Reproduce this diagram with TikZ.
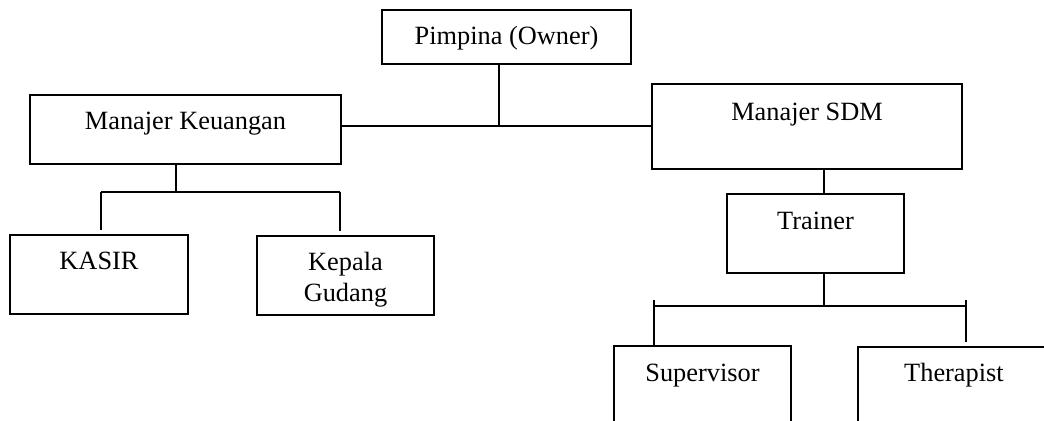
\documentclass[tikz,border=0pt]{standalone}
\usepackage{fontspec}
\setmainfont{Liberation Serif}
\usepackage{tikz}
\usetikzlibrary{positioning,calc}
\tikzset{
    orgbox/.style={rectangle, draw=black, line width=0.9pt, inner xsep=0pt, inner ysep=0pt, font=\fontsize{12}{14.5}\selectfont, align=center},
    orgline/.style={draw=black, line width=0.9pt}
}

\begin{document}
\begin{tikzpicture}[x=0.016cm, y=-0.016cm]
    \clip (0,0) rectangle (1044,421);

    \node[orgbox, minimum width=3.984cm, text height=0.56cm, text depth=0.304cm] (owner) at (506.5,37) {Pimpina (Owner)};
    \node[orgbox, minimum width=4.976cm, text height=0.56cm, text depth=0.544cm] (keuangan) at (185.5,129.5) {Manajer Keuangan};
    \node[orgbox, minimum width=4.96cm, text height=0.592cm, text depth=0.768cm] (sdm) at (807,126.5) {Manajer SDM};
    \node[orgbox, minimum width=2.848cm, text height=0.56cm, text depth=0.704cm] (kasir) at (99,274.5) {KASIR};
    \node[orgbox, minimum width=2.832cm, text height=1.056cm, text depth=0.208cm] (gudang) at (345.5,275.5) {Kepala\\Gudang};
    \node[orgbox, minimum width=2.832cm, text height=0.576cm, text depth=0.688cm] (trainer) at (815.5,233.5) {Trainer};
    \node[orgbox, minimum width=2.832cm, text height=0.576cm, text depth=0.688cm] (supervisor) at (702.5,385.5) {Supervisor};
    \node[orgbox, minimum width=3.072cm, text height=0.56cm, text depth=0.704cm] (therapist) at (954,386.5) {Therapist};

    % junction points
    \coordinate (ownerjoin) at (499,126);
    \coordinate (kjoin) at (176,192);
    \coordinate (kleft) at (101,192);
    \coordinate (kright) at (340,192);
    \coordinate (tjoin) at (824,306);
    \coordinate (tleft) at (654,300);
    \coordinate (tright) at (966,300);

    \draw[orgline] (owner.south -| ownerjoin) -- (ownerjoin);
    \draw[orgline] (keuangan.east |- ownerjoin) -- (sdm.west |- ownerjoin);

    \draw[orgline] (keuangan.south -| kjoin) -- (kjoin);
    \draw[orgline] (kleft) -- (kright);
    \draw[orgline, shorten >=0.06cm] (kleft) -- (kasir.north -| kleft);
    \draw[orgline, shorten >=0.06cm] (kright) -- (gudang.north -| kright);

    \draw[orgline] (sdm.south -| tjoin) -- (trainer.north -| tjoin);
    \draw[orgline] (trainer.south -| tjoin) -- (tjoin);
    \draw[orgline] (tleft |- tjoin) -- (tright |- tjoin);
    \draw[orgline] (tleft) -- (supervisor.north -| tleft);
    \draw[orgline, shorten >=0.06cm] (tright) -- (therapist.north -| tright);
\end{tikzpicture}
\end{document}
